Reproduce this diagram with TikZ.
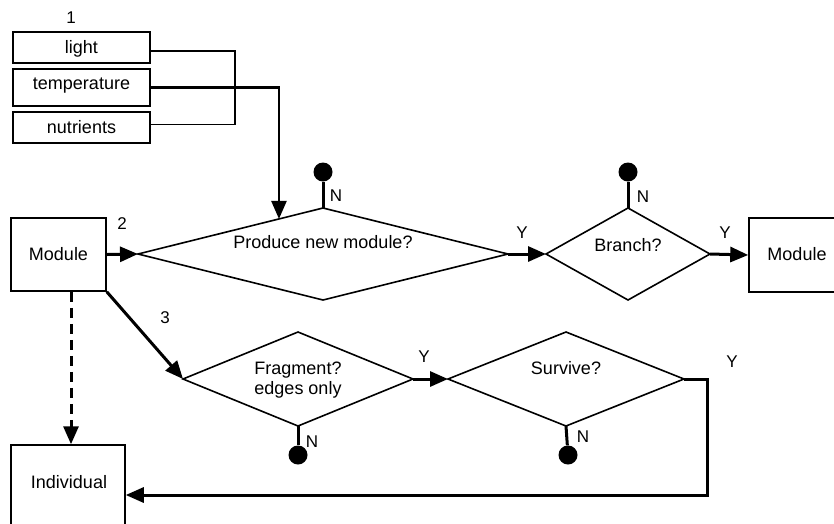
\documentclass[tikz,border=0pt]{standalone}
\usepackage{fontspec}
\setmainfont{Liberation Sans}
\usetikzlibrary{shapes.geometric,arrows.meta,calc}
\tikzset{
  txt/.style={font=\fontsize{18}{21}\selectfont, inner sep=0pt},
  lbl/.style={font=\fontsize{17}{20}\selectfont, inner sep=0pt},
  box/.style={draw, line width=1.5pt, rectangle, inner sep=0pt},
  dia/.style={draw, line width=1.6pt, diamond, inner sep=0pt, outer sep=0pt},
  conn/.style={line width=3pt},
  thinconn/.style={line width=1.8pt},
  arr/.style={-{Triangle[length=18pt,width=15pt]}},
  stem/.style={line width=3pt},
  dot/.style={circle, fill=black, minimum size=19pt, inner sep=0pt}
}
\begin{document}
\begin{tikzpicture}[x=1pt,y=-1pt]
\useasboundingbox (0,0) rectangle (834,523);
\clip (0,0) rectangle (834,523);
% input boxes
\node[box, minimum width=137, minimum height=31] (light) at (81.5,47.5) {};
\node[txt] (lighttxt) at (81.5,49) {light};
\node[box, minimum width=137, minimum height=37] (temp) at (81.5,87.5) {};
\node[txt] (temptxt) at (81.5,86) {temperature};
\node[box, minimum width=137, minimum height=31] (nutr) at (81.5,127.5) {};
\node[txt] (nutrtxt) at (81.5,127) {nutrients};
\node[lbl] (one) at (71,18) {1};
% modules
\node[box, minimum width=95, minimum height=73] (mod1) at (58.5,254.5) {};
\node[txt] (mod1txt) at (58.5,254) {Module};
\node[lbl] (two) at (122,224) {2};
\node[box, minimum width=96, minimum height=74] (mod2) at (797,255) {};
\node[txt] (mod2txt) at (797,254) {Module};
\node[box, minimum width=114, minimum height=100] (ind) at (68,495) {};
\node[txt] (indtxt) at (69,482) {Individual};
% diamonds
\node[dia, minimum width=370, minimum height=92] (d1) at (323,254) {};
\node[txt] (d1txt) at (323,242) {Produce new module?};
\node[dia, minimum width=164, minimum height=92] (d2) at (628,254) {};
\node[txt] (d2txt) at (628,245) {Branch?};
\node[dia, minimum width=230, minimum height=94] (d3) at (298,379) {};
\node[txt, align=center] (d3txt) at (298,380) {Fragment?\\[-1pt]edges only};
\node[dia, minimum width=236, minimum height=94] (d4) at (566,379) {};
\node[txt] (d4txt) at (566,368) {Survive?};
% end dots
\node[dot] (dot1) at (323,172) {};
\node[dot] (dot2) at (628,172) {};
\node[dot] (dot3) at (298,455) {};
\node[dot] (dot4) at (568,455) {};
% labels
\node[lbl] (n1) at (336,196) {N};
\node[lbl] (n2) at (643,197) {N};
\node[lbl] (n3) at (312,442) {N};
\node[lbl] (n4) at (583,437) {N};
\node[lbl] (y1) at (522,233) {Y};
\node[lbl] (y2) at (725,233) {Y};
\node[lbl] (y3) at (424,357) {Y};
\node[lbl] (y4) at (732,362) {Y};
\node[lbl] (three) at (165,318) {3};
% helper coordinates
\coordinate (brk) at (235,0);
\coordinate (tin) at ($(d1.west)!0.762!(d1.north)$);
\coordinate (loop) at (707,0);
\coordinate (dsh) at (71,0);
% connectors
\draw[thinconn] ([yshift=-3.5pt]light.east) -- ([yshift=-3.5pt]light.east -| brk) -- ([yshift=3pt]nutr.east -| brk) -- ([yshift=3pt]nutr.east);
\draw[line width=2.4pt, arr] (temp.east) -| (tin);
\draw[conn, arr] (mod1.east) -- (d1.west);
\draw[conn, arr] (d1.east) -- (d2.west);
\draw[conn, arr] (d2.east) -- (mod2.west);
\draw[conn, arr] (mod1.south east) -- (d3.west);
\draw[conn, arr] (d3.east) -- (d4.west);
\draw[conn, arr] (d4.east) -- (d4.east -| loop) -- (ind.east -| loop) -- (ind.east);
\draw[conn, arr, dash pattern=on 10pt off 6pt] (mod1.south -| dsh) -- (ind.north -| dsh);
\draw[stem] (d1.north) -- (dot1);
\draw[stem] (d2.north) -- (dot2);
\draw[stem] (d3.south) -- (dot3);
\draw[stem] (d4.south) -- (dot4);
\end{tikzpicture}
\end{document}
